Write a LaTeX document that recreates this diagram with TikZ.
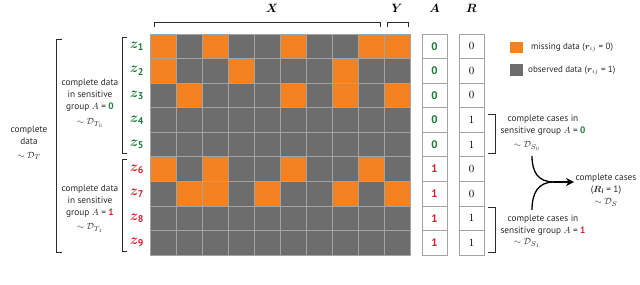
\documentclass[tikz,border=0pt]{standalone}
\usepackage{amsmath,bm}
\usepackage{fontspec}
\setmainfont{PT Sans}
\usetikzlibrary{arrows.meta}
\definecolor{orng}{HTML}{F58220}
\definecolor{obs}{HTML}{6D6D6D}
\definecolor{gline}{HTML}{A3A3A3}
\definecolor{grn}{HTML}{1B7A3A}
\definecolor{rd}{HTML}{D0202E}
\definecolor{ink}{HTML}{2A2A2A}
\tikzset{
  cell/.style={draw=gline, line width=0.8pt, fill=obs, minimum width=26pt, minimum height=24.56pt, inner sep=0pt, outer sep=0pt},
  valbox/.style={draw=gline, line width=0.8pt, fill=white, minimum width=25pt, minimum height=24.56pt, inner sep=0pt, font=\fontsize{11}{11}\selectfont},
  brk/.style={draw=ink, line width=0.9pt},
  hdr/.style={font=\fontsize{13}{13}\selectfont, inner sep=0pt},
  zlab/.style={font=\fontsize{14}{14}\selectfont, inner sep=0pt},
  txt/.style={font=\fontsize{9.3}{12}\selectfont, align=center, text=ink, inner sep=0pt},
  ltxt/.style={font=\fontsize{9}{11}\selectfont, anchor=west, text=ink, inner sep=0pt},
  arr/.style={draw=black, line width=1.3pt},
}
\begin{document}
\begin{tikzpicture}[x=1pt,y=-1pt]
\useasboundingbox (0,0) rectangle (640,284);
% grid of cells
\foreach \r in {1,...,9}{
  \foreach \c in {1,...,10}{
    \node[cell] (c-\r-\c) at ({150+26*(\c-0.5)},{34+24.56*(\r-0.5)}) {};
  }
}
% missing cells
\foreach \r/\c in {1/1,1/3,1/6,1/9,1/10,2/1,2/4,2/8,3/2,3/6,3/8,3/10,6/1,6/3,6/6,6/9,7/2,7/3,7/5,7/8,7/10}{
  \node[cell, fill=orng] (m-\r-\c) at (c-\r-\c) {};
}
% A and R columns
\foreach \r/\v in {1/0,2/0,3/0,4/1,5/1}{
  \node[valbox, text=grn] (a-\r) at (434.5,{34+24.56*(\r-0.5)}) {$\mathbf{0}$};
  \node[valbox] (rr-\r) at (471.5,{34+24.56*(\r-0.5)}) {$\v$};
}
\foreach \r/\v in {6/0,7/0,8/1,9/1}{
  \node[valbox, text=rd] (a-\r) at (434.5,{34+24.56*(\r-0.5)}) {$\mathbf{1}$};
  \node[valbox] (rr-\r) at (471.5,{34+24.56*(\r-0.5)}) {$\v$};
}
% headers
\node[hdr] (hx) at (272,8) {$\bm{X}$};
\node[hdr] (hy) at (397,8) {$\bm{Y}$};
\node[hdr] (ha) at (434.5,8) {$\bm{A}$};
\node[hdr] (hr) at (471.5,8) {$\bm{R}$};
% top brackets
\draw[brk] (154,27) -- (154,22) -- (380,22) -- (380,27);
\draw[brk] (387,27) -- (387,22) -- (408,22) -- (408,27);
% z labels
\foreach \r in {1,...,5}{
  \node[zlab, text=grn] (z-\r) at (137,{34+24.56*(\r-0.5)}) {$\bm{z}_{\mathbf{\r}}$};
}
\foreach \r in {6,...,9}{
  \node[zlab, text=rd] (z-\r) at (137,{34+24.56*(\r-0.5)}) {$\bm{z}_{\mathbf{\r}}$};
}
% left brackets
\draw[brk] (127,37) -- (122,37) -- (122,153) -- (127,153);
\draw[brk] (127,159) -- (122,159) -- (122,251) -- (127,251);
\draw[brk] (62,39) -- (56,39) -- (56,252) -- (62,252);
% left texts
\node[txt] (g0) at (90,95) {complete data\\in sensitive\\group $A$ = \textcolor{grn}{\textbf{0}}};
\node[txt] (g0d) at (90,123) {$\sim\mathcal{D}_{T_0}$};
\node[txt] (g1) at (90,201) {complete data\\in sensitive\\group $A$ = \textcolor{rd}{\textbf{1}}};
\node[txt] (g1d) at (90,228) {$\sim\mathcal{D}_{T_1}$};
\node[txt] (gall) at (29,135) {complete\\data};
\node[txt] (galld) at (29,156) {$\sim\mathcal{D}_{T}$};
% legend
\node[draw=none, fill=orng, minimum width=13pt, minimum height=11pt, inner sep=0pt] (lm) at (516.5,47.5) {};
\node[draw=none, fill=obs, minimum width=13pt, minimum height=12pt, inner sep=0pt] (lo) at (516.5,70) {};
\node[ltxt] (lmt) at (531,47.5) {missing data ($\bm{r}_{ij}$ = 0)};
\node[ltxt] (lot) at (528,70) {observed data ($\bm{r}_{ij}$ = 1)};
% right brackets
\draw[brk] (488,114) -- (495,114) -- (495,153) -- (488,153);
\draw[brk] (488,207) -- (495,207) -- (495,252) -- (488,252);
% right texts
\node[txt] (s0) at (543,125) {complete cases in\\sensitive group $A$ = \textcolor{grn}{\textbf{0}}};
\node[txt] (s0d) at (527,146) {$\sim\mathcal{D}_{S_0}$};
\node[txt] (s1) at (543,225) {complete cases in\\sensitive group $A$ = \textcolor{rd}{\textbf{1}}};
\node[txt] (s1d) at (527,243) {$\sim\mathcal{D}_{S_1}$};
\node[txt] (sall) at (606,190) {complete cases\\($\bm{R}_{\mathbf{i}}$ = 1)\\$\sim\mathcal{D}_{S}$};
% merging arrow
\coordinate (p1) at (532,156);
\coordinate (p2) at (532,210);
\coordinate (pm) at (554,182);
\coordinate (pt) at (574,182);
\draw[arr] (p1) .. controls (532,172) and (538,182) .. (pm);
\draw[arr] (p2) .. controls (532,193) and (538,182) .. (pm);
\draw[arr, -{Stealth[length=8pt,width=8pt]}] (pm) -- (pt);
\end{tikzpicture}
\end{document}
